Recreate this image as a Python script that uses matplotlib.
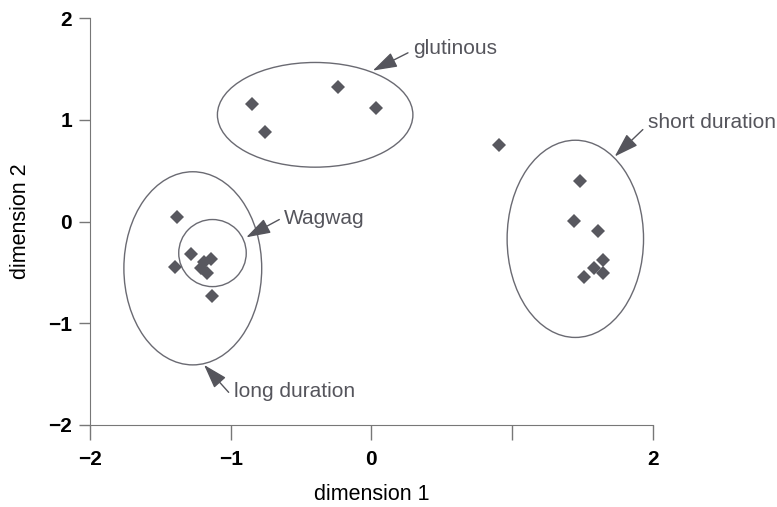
import matplotlib.pyplot as plt
from matplotlib.patches import Ellipse

plt.rcParams['font.family'] = ['Liberation Sans', 'DejaVu Sans']

# scatter points
glut_x = [-0.85, -0.76, -0.24, 0.03]
glut_y = [1.16, 0.88, 1.32, 1.12]
short_x = [0.91, 1.48, 1.44, 1.61, 1.65, 1.58, 1.65, 1.51]
short_y = [0.75, 0.40, 0.01, -0.09, -0.38, -0.46, -0.51, -0.55]
long_x = [-1.38, -1.28, -1.40, -1.14, -1.19, -1.21, -1.17, -1.13]
long_y = [0.04, -0.32, -0.45, -0.37, -0.40, -0.46, -0.51, -0.73]

# cluster ellipses: centre x, centre y, width, height
ell_cx = [-0.40, -1.27, -1.13, 1.45]
ell_cy = [1.05, -0.46, -0.31, -0.17]
ell_w = [1.39, 0.98, 0.48, 0.97]
ell_h = [1.03, 1.90, 0.66, 1.94]

labels = ["glutinous", "short duration", "Wagwag", "long duration"]
tips = [(0.01, 1.485), (1.73, 0.64), (-0.89, -0.155), (-1.19, -1.41)]
tails = [(0.26, 1.66), (1.93, 0.905), (-0.655, 0.02), (-1.015, -1.68)]
text_pos = [(0.30, 1.70), (1.97, 0.975), (-0.62, 0.03), (-0.98, -1.67)]

fig = plt.figure(figsize=(7.77, 5.07), dpi=100)
ax = fig.add_axes([0.116, 0.162, 0.724, 0.802])

pt_col = "#58585f"
allx = glut_x + short_x + long_x
ally = glut_y + short_y + long_y
ax.plot(allx, ally, "D", color=pt_col, markersize=7.2, markeredgewidth=0)

for cx, cy, w, h in zip(ell_cx, ell_cy, ell_w, ell_h):
    ax.add_patch(Ellipse((cx, cy), w, h, fill=False, edgecolor="#6a6a72", linewidth=1.0))

for lab, tip, tail, tp in zip(labels, tips, tails, text_pos):
    ax.annotate("", xy=tip, xytext=tail,
                arrowprops=dict(arrowstyle="-|>,head_length=1.0,head_width=0.32",
                                color="#55555c", lw=1.0, mutation_scale=15,
                                shrinkA=0, shrinkB=0))
    ax.text(tp[0], tp[1], lab, ha="left", va="center", fontsize=15, color="#55555c")

ax.set_xlim(-2, 2)
ax.set_ylim(-2, 2)
ax.set_xticks([-2, -1, 0, 1, 2])
ax.set_xticklabels(["\u22122", "\u22121", "0", "", "2"])
ax.set_yticks([-2, -1, 0, 1, 2])
ax.set_yticklabels(["\u22122", "\u22121", "0", "1", "2"])
for lab in ax.get_xticklabels() + ax.get_yticklabels():
    lab.set_fontweight("bold")
    lab.set_fontsize(15)
ax.tick_params(axis="x", length=11, width=1, color="#777777", pad=7)
ax.tick_params(axis="y", length=8, width=1, color="#777777", pad=5)

ax.spines["top"].set_visible(False)
ax.spines["right"].set_visible(False)
ax.spines["left"].set_color("#777777")
ax.spines["bottom"].set_color("#777777")

ax.set_xlabel("dimension 1", fontsize=15.5, labelpad=11)
ax.set_ylabel("dimension 2", fontsize=15.5, labelpad=12)

fig.savefig("out.png", dpi=100)
